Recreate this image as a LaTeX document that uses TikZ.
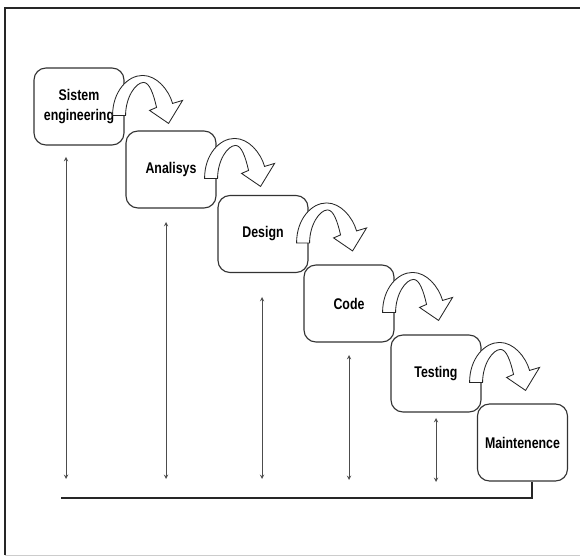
\documentclass[tikz,border=0pt]{standalone}
\usepackage{fontspec}
\newfontfamily\boxfont{Liberation Sans}[FakeStretch=0.8]
\tikzset{
  fase/.style={draw=black!80, line width=0.8pt, rounded corners=0.3cm, fill=white,
    minimum width=2.25cm, minimum height=1.925cm, align=center,
    font=\boxfont\bfseries\fontsize{11}{14}\selectfont},
  giro/.style={draw=black!85, line width=0.6pt, fill=white},
  updown/.style={<->, >=stealth, thin, black!70}
}
\begin{document}
\begin{tikzpicture}[x=0.025cm, y=-0.025cm]
		\useasboundingbox (0,0) rectangle (580,557);
		%marco
		\draw[line width=1pt, black!85] (5,555) -- (5,8) -- (580,8);
		\draw[black!20] (5,555) -- (580,555);

		%fases en escalera
		\node[fase] (sis) at (79,106.5) {Sistem\\engineering};
		\node[fase] (ana) at (171,169.5) {Analisys};
		\node[fase] (des) at (263,234) {Design};
		\node[fase] (cod) at (349,303.5) {Code};
		\node[fase] (tes) at (436,373.5) {Testing};
		\node[fase] (mai) at (522.5,442.5) {Maintenence};

		%flechas curvas entre fases
		\foreach \b in {sis,ana,des,cod,tes}{
		\begin{scope}[shift={(\b.north east)}]
		\draw[giro] (-12,48) .. controls (-12,24) and (3,8) .. (18,8)
		  .. controls (32,8) and (44,22) .. (48,36) -- (58,33) -- (44,56)
		  -- (25,43) -- (32,40) .. controls (29,27) and (25,15) .. (19,15)
		  .. controls (11,15) and (1,30) .. (1,48) -- cycle;
		\end{scope}
		}

		%flechas verticales
		\draw[updown] (66,157) coordinate (a1) -- (66,479) coordinate (b1);
		\draw[updown] (166,222) coordinate (a2) -- (166,479) coordinate (b2);
		\draw[updown] (262,297) coordinate (a3) -- (262,479) coordinate (b3);
		\draw[updown] (349,355) coordinate (a4) -- (349,480) coordinate (b4);
		\draw[updown] (436,418) coordinate (a5) -- (436,482) coordinate (b5);

		%linea base
		\coordinate (base) at (61,498);
		\coordinate (esq) at (532,498);
		\draw[line width=0.9pt, black!85] (base) -- (esq) -- (esq |- mai.south);
\end{tikzpicture}
\end{document}
